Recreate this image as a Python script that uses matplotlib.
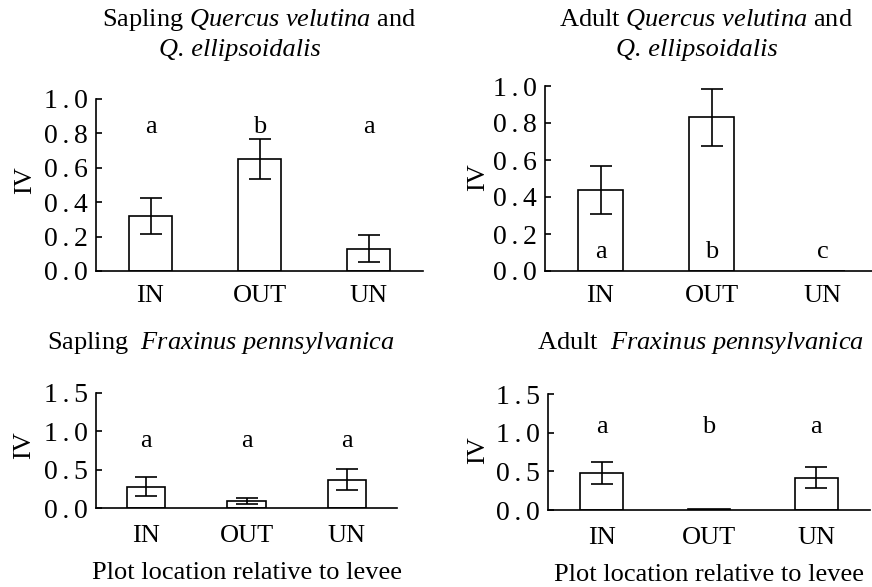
import matplotlib
matplotlib.use("Agg")
import matplotlib.pyplot as plt

plt.rcParams["font.family"] = ["Liberation Serif", "DejaVu Serif"]
plt.rcParams["mathtext.fontset"] = "custom"
plt.rcParams["mathtext.rm"] = "Liberation Serif"
plt.rcParams["mathtext.it"] = "Liberation Serif:italic"

CATS = ["IN", "OUT", "UN"]

# values
sap_oak = [0.32, 0.65, 0.13]
sap_oak_se = [0.107, 0.116, 0.078]
sap_oak_letters = ["a", "b", "a"]

adu_oak = [0.44, 0.83, 0.0]
adu_oak_se = [0.13, 0.153, 0.0]
adu_oak_letters = ["a", "b", "c"]

sap_ash = [0.28, 0.095, 0.37]
sap_ash_se = [0.12, 0.04, 0.135]
sap_ash_letters = ["a", "a", "a"]

adu_ash = [0.48, 0.01, 0.42]
adu_ash_se = [0.14, 0.0, 0.135]
adu_ash_letters = ["a", "b", "a"]

oak_ticks = [0.0, 0.2, 0.4, 0.6, 0.8, 1.0]
ash_ticks = [0.0, 0.5, 1.0, 1.5]

FS = 19
W, H = 872, 587
SP = "\u2006"  # the source font sets the decimal point loosely


def tick_text(v):
    a, b = f"{v:.1f}".split(".")
    return a + SP + "." + SP + b


def panel(fig, rect, vals, errs, letters, letter_y, ymax, yticks,
          width, xpad):
    ax = fig.add_axes(rect)
    x = list(range(len(CATS)))
    ax.bar(x, vals, width=width, color="white", edgecolor="black", lw=1.2,
           zorder=2)
    for xi, v, e in zip(x, vals, errs):
        if e > 0:
            ax.errorbar(xi, v, yerr=e, fmt="none", ecolor="black",
                        elinewidth=1.2, capsize=8, capthick=1.2, zorder=3)
    for xi, t in zip(x, letters):
        ax.text(xi, letter_y, t, ha="center", va="baseline", fontsize=FS)
    ax.set_xlim(-0.5, 2.5)
    ax.set_ylim(0, ymax)
    ax.set_yticks(yticks)
    ax.set_yticklabels([tick_text(v) for v in yticks])
    ax.set_xticks(x)
    ax.set_xticklabels(CATS)
    for s in ["top", "right"]:
        ax.spines[s].set_visible(False)
    for s in ["left", "bottom"]:
        ax.spines[s].set_linewidth(1.2)
    ax.tick_params(axis="y", direction="in", length=4, width=1.2,
                   labelsize=20, pad=6)
    ax.tick_params(axis="x", length=0, labelsize=FS, pad=xpad)
    return ax


fig = plt.figure(figsize=(W / 100, H / 100), dpi=100)

panel(fig, [96 / W, 1 - 271 / H, 327 / W, 172 / H],
      sap_oak, sap_oak_se, sap_oak_letters, 0.8, 1.0, oak_ticks, 0.40, 10)
panel(fig, [545 / W, 1 - 271 / H, 333 / W, 185 / H],
      adu_oak, adu_oak_se, adu_oak_letters, 0.07, 1.0, oak_ticks, 0.40, 10)
ax3 = panel(fig, [96 / W, 1 - 508 / H, 301 / W, 115 / H],
            sap_ash, sap_ash_se, sap_ash_letters, 0.8, 1.5, ash_ticks,
            0.38, 12)
ax4 = panel(fig, [548 / W, 1 - 510 / H, 322 / W, 116 / H],
            adu_ash, adu_ash_se, adu_ash_letters, 1.0, 1.5, ash_ticks,
            0.40, 12)

for ax in (ax3, ax4):
    ax.set_xlabel("Plot location relative to levee", fontsize=FS, labelpad=11)

# y labels
for px, py in [(25, 180), (478, 177), (24, 445), (478, 450)]:
    fig.text(px / W, 1 - py / H, "IV", rotation=90, ha="center", va="center",
             fontsize=FS)

# panel titles
fig.text(259 / W, 1 - 20 / H, r"Sapling $\mathit{Quercus}$ $\mathit{velutina}$ and",
         ha="center", va="center", fontsize=FS)
fig.text(240 / W, 1 - 50 / H, "Q. ellipsoidalis", style="italic",
         ha="center", va="center", fontsize=FS)
fig.text(706 / W, 1 - 20 / H, r"Adult $\mathit{Quercus}$ $\mathit{velutina}$ and",
         ha="center", va="center", fontsize=FS)
fig.text(697 / W, 1 - 50 / H, "Q. ellipsoidalis", style="italic",
         ha="center", va="center", fontsize=FS)
fig.text(221 / W, 1 - 343 / H,
         r"Sapling  $\mathit{Fraxinus}$ $\mathit{pennsylvanica}$",
         ha="center", va="center", fontsize=FS)
fig.text(700 / W, 1 - 343 / H,
         r"Adult  $\mathit{Fraxinus}$ $\mathit{pennsylvanica}$",
         ha="center", va="center", fontsize=FS)

fig.savefig("out.png", dpi=100)
